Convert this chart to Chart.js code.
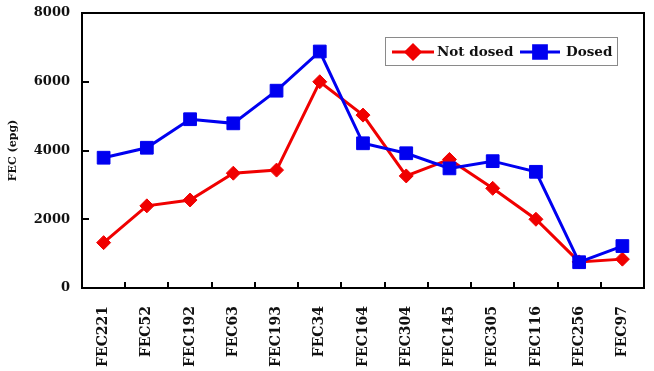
<!DOCTYPE html>
<html>
<head>
<meta charset="utf-8">
<script src="https://cdn.jsdelivr.net/npm/chart.js@4/dist/chart.umd.min.js"></script>
<style>
  html, body { margin: 0; padding: 0; background: #fff; }
  #wrap { width: 654px; height: 371px; position: relative; }
</style>
</head>
<body>
<div id="wrap"><canvas id="c"></canvas></div>
<script>
// Faecal egg counts per animal
const categories = ['FEC221', 'FEC52', 'FEC192', 'FEC63', 'FEC193', 'FEC34', 'FEC164',
                    'FEC304', 'FEC145', 'FEC305', 'FEC116', 'FEC256', 'FEC97'];
const notDosed = [1320, 2390, 2560, 3340, 3430, 6000, 5030, 3260, 3740, 2900, 2000, 760, 840];
const dosed    = [3790, 4080, 4910, 4790, 5740, 6880, 4210, 3920, 3480, 3690, 3380, 750, 1220];
const yTicks   = [0, 2000, 4000, 6000, 8000];

const RED = '#f00000';
const BLUE = '#0000f0';
const SERIF = '"DejaVu Serif", "Liberation Serif", serif';

// Box frame, inward tick marks and boxed legend
const framePlugin = {
  id: 'frame',
  afterDraw(chart) {
    const ctx = chart.ctx;
    const a = chart.chartArea;
    const xs = chart.scales.x, ys = chart.scales.y;
    ctx.save();
    ctx.strokeStyle = '#000';
    ctx.lineWidth = 2;
    ctx.strokeRect(a.left, a.top, a.right - a.left, a.bottom - a.top);
    ctx.beginPath();
    yTicks.forEach(v => {
      const y = Math.round(ys.getPixelForValue(v));
      ctx.moveTo(a.left, y);
      ctx.lineTo(a.left + 7, y);
    });
    for (let i = 0; i < categories.length - 1; i++) {
      const x = Math.round((xs.getPixelForValue(i) + xs.getPixelForValue(i + 1)) / 2);
      ctx.moveTo(x, a.bottom);
      ctx.lineTo(x, a.bottom - 6);
    }
    ctx.stroke();

    // legend
    const lx = 385, ly = 37, lw = 232, lh = 28;
    ctx.fillStyle = '#fff';
    ctx.fillRect(lx, ly, lw, lh);
    ctx.strokeStyle = '#8a8a8a';
    ctx.lineWidth = 1;
    ctx.strokeRect(lx + 0.5, ly + 0.5, lw, lh);
    const cy = ly + lh / 2 + 1;
    const items = [
      { label: 'Not dosed', color: RED, style: 'rectRot', r: 7, x0: 392, x1: 434, tx: 437 },
      { label: 'Dosed', color: BLUE, style: 'rect', r: 9, x0: 520, x1: 560, tx: 566 }
    ];
    items.forEach(it => {
      ctx.strokeStyle = it.color;
      ctx.lineWidth = 3;
      ctx.beginPath();
      ctx.moveTo(it.x0, cy);
      ctx.lineTo(it.x1, cy);
      ctx.stroke();
      ctx.fillStyle = it.color;
      Chart.helpers.drawPoint(ctx, { pointStyle: it.style, radius: it.r, borderWidth: 1 },
                              (it.x0 + it.x1) / 2, cy);
      ctx.fill();
      ctx.fillStyle = '#111';
      ctx.font = 'bold 13.5px ' + SERIF;
      ctx.textBaseline = 'middle';
      ctx.textAlign = 'left';
      ctx.fillText(it.label, it.tx, cy);
    });
    ctx.restore();
  }
};

new Chart(document.getElementById('c'), {
  type: 'line',
  data: {
    labels: categories,
    datasets: [
      {
        label: 'Not dosed',
        data: notDosed,
        borderColor: RED,
        backgroundColor: RED,
        borderWidth: 3,
        pointStyle: 'rectRot',
        pointRadius: 7,
        pointBorderWidth: 1,
        tension: 0,
        order: 1
      },
      {
        label: 'Dosed',
        data: dosed,
        borderColor: BLUE,
        backgroundColor: BLUE,
        borderWidth: 3,
        pointStyle: 'rect',
        pointRadius: 9,
        pointBorderWidth: 1,
        tension: 0,
        order: 0
      }
    ]
  },
  options: {
    responsive: true,
    maintainAspectRatio: false,
    animation: false,
    events: [],
    layout: { padding: { left: 0, top: 13, right: 6, bottom: 0 } },
    plugins: { legend: { display: false }, tooltip: { enabled: false } },
    scales: {
      x: {
        type: 'category',
        offset: true,
        grid: { display: false, drawTicks: true, tickLength: 18 },
        border: { display: false },
        ticks: {
          color: '#111',
          font: { family: SERIF, size: 14, weight: 'bold' },
          minRotation: 90,
          maxRotation: 90,
          padding: 0,
          autoSkip: false
        },
        afterFit(scale) {
          scale.height = 83;
          scale.paddingLeft = 0;
          scale.paddingRight = 0;
        }
      },
      y: {
        min: 0,
        max: 8000,
        afterBuildTicks(scale) { scale.ticks = yTicks.map(v => ({ value: v })); },
        grid: { display: false, drawTicks: true, tickLength: 12 },
        border: { display: false },
        ticks: {
          color: '#111',
          font: { family: SERIF, size: 13, weight: 'bold' },
          padding: 0,
          callback: v => String(v)
        },
        title: {
          display: true,
          text: 'FEC (epg)',
          color: '#111',
          font: { family: SERIF, size: 11, weight: 'bold' },
          padding: { top: 7, bottom: 0 }
        },
        afterFit(scale) {
          scale.width = 82;
          scale.paddingTop = 0;
          scale.paddingBottom = 0;
        }
      }
    }
  },
  plugins: [framePlugin]
});
</script>
</body>
</html>
